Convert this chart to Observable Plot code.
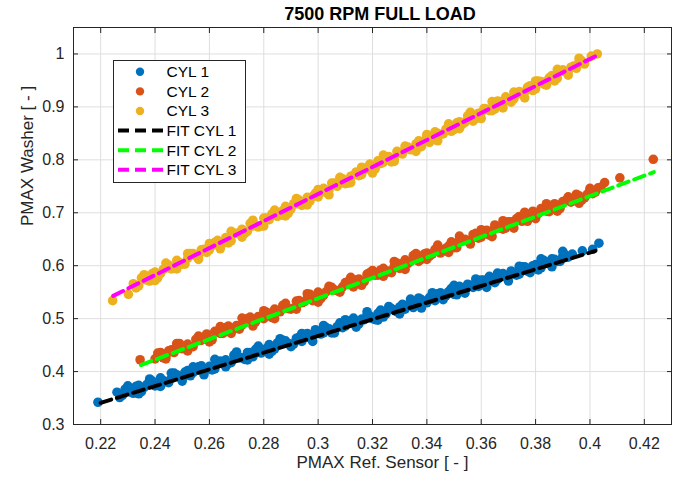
<!DOCTYPE html>
<html><head><meta charset="utf-8">
<script src="https://cdn.jsdelivr.net/npm/d3@7"></script>
<script src="https://cdn.jsdelivr.net/npm/@observablehq/plot@0.6"></script>
<style>
body{margin:0;background:#fff;}
#wrap{position:relative;width:682px;height:482px;font-family:"Liberation Sans",Arial,Helvetica,sans-serif;}
#title{position:absolute;left:81px;width:598px;top:4px;line-height:20px;text-align:center;font-weight:bold;font-size:18px;color:#000;}
#legend{position:absolute;left:113px;top:60px;}
</style></head><body>
<div id="wrap"><div id="title">7500 RPM FULL LOAD</div><div id="chart"></div><div id="legend"></div></div>
<script>
const chartTitle = "7500 RPM FULL LOAD";
const xLabel = "PMAX Ref. Sensor [ - ]";
const yLabel = "PMAX Washer [ - ]";
const xTicks = [0.22,0.24,0.26,0.28,0.3,0.32,0.34,0.36,0.38,0.4,0.42];
const yTicks = [0.3,0.4,0.5,0.6,0.7,0.8,0.9,1];
const seriesNames = ["CYL 1","CYL 2","CYL 3"];
const fitNames = ["FIT CYL 1","FIT CYL 2","FIT CYL 3"];
const seriesColors = ["#0072BD","#D95319","#EDB120"];
const fitColors = ["#000000","#00FF00","#FF00FF"];

const cyl1X = [0.219,0.226,0.228,0.230,0.232,0.234,0.236,0.238,0.240,0.242,0.244,0.246,0.248,0.250,0.252,0.254,0.256,0.258,0.260,0.262,0.264,0.266,0.268,0.270,0.272,0.274,0.276,0.278,0.280,0.282,0.284,0.286,0.288,0.290,0.292,0.294,0.296,0.298,0.300,0.302,0.304,0.306,0.308,0.310,0.312,0.314,0.316,0.318,0.320,0.322,0.324,0.326,0.328,0.330,0.332,0.334,0.336,0.338,0.340,0.342,0.344,0.346,0.348,0.350,0.352,0.354,0.356,0.358,0.360,0.362,0.364,0.366,0.368,0.370,0.372,0.374,0.376,0.378,0.380,0.382,0.384,0.386,0.388,0.390,0.392,0.3935,0.3972,0.401,0.4033];
const cyl1Y = [0.342,0.361,0.355,0.364,0.359,0.374,0.370,0.378,0.373,0.388,0.381,0.387,0.394,0.387,0.402,0.398,0.409,0.402,0.410,0.405,0.420,0.422,0.417,0.431,0.426,0.436,0.428,0.440,0.438,0.451,0.443,0.451,0.458,0.452,0.463,0.457,0.472,0.468,0.476,0.473,0.481,0.476,0.492,0.486,0.495,0.489,0.499,0.507,0.500,0.510,0.503,0.518,0.516,0.522,0.518,0.532,0.526,0.536,0.530,0.540,0.547,0.543,0.551,0.546,0.561,0.554,0.563,0.563,0.573,0.564,0.577,0.574,0.585,0.581,0.587,0.584,0.598,0.592,0.602,0.596,0.607,0.613,0.608,0.618,0.616,0.622,0.628,0.631,0.6425];
const cyl1XB = [0.227,0.229,0.231,0.233,0.235,0.237,0.239,0.241,0.243,0.245,0.247,0.249,0.251,0.253,0.255,0.257,0.259,0.261,0.263,0.265,0.267,0.269,0.271,0.273,0.275,0.277,0.279,0.281,0.283,0.285,0.287,0.289,0.291,0.293,0.295,0.297,0.299,0.301,0.303,0.305,0.307,0.309,0.311,0.313,0.315,0.317,0.319,0.321,0.323,0.325,0.327,0.329,0.331,0.333,0.335,0.337,0.339,0.341,0.343,0.345,0.347,0.349,0.351,0.353,0.355,0.357,0.359,0.361,0.363,0.365,0.367,0.369,0.371,0.373,0.375,0.377,0.379,0.381,0.383,0.385,0.387,0.389,0.391];
const cyl1YB = [0.351,0.367,0.361,0.372,0.362,0.376,0.382,0.374,0.383,0.379,0.397,0.389,0.399,0.392,0.403,0.411,0.404,0.403,0.419,0.418,0.415,0.431,0.426,0.423,0.436,0.442,0.435,0.444,0.438,0.454,0.459,0.453,0.452,0.465,0.466,0.463,0.479,0.471,0.483,0.473,0.485,0.483,0.495,0.501,0.490,0.498,0.505,0.498,0.516,0.509,0.519,0.513,0.527,0.526,0.521,0.539,0.532,0.540,0.534,0.549,0.543,0.557,0.545,0.558,0.565,0.559,0.561,0.573,0.580,0.568,0.579,0.579,0.590,0.582,0.598,0.590,0.600,0.592,0.610,0.606,0.612,0.608,0.620];
const cyl1XC = [0.230,0.234,0.238,0.242,0.246,0.250,0.254,0.258,0.262,0.266,0.270,0.274,0.278,0.282,0.286,0.290,0.294,0.298,0.302,0.306,0.310,0.314,0.318,0.322,0.326,0.330,0.334,0.338,0.342,0.346,0.350,0.354,0.358,0.362,0.366,0.370,0.374,0.378,0.382,0.386,0.390];
const cyl1YC = [0.373,0.358,0.386,0.372,0.397,0.382,0.409,0.394,0.423,0.409,0.437,0.422,0.448,0.433,0.462,0.447,0.472,0.457,0.487,0.473,0.498,0.484,0.513,0.497,0.523,0.509,0.537,0.520,0.549,0.536,0.563,0.548,0.575,0.559,0.586,0.571,0.599,0.587,0.613,0.598,0.627];

const cyl2X = [0.2345,0.240,0.242,0.244,0.246,0.248,0.250,0.252,0.254,0.256,0.258,0.260,0.262,0.264,0.266,0.268,0.270,0.272,0.274,0.276,0.278,0.280,0.282,0.284,0.286,0.288,0.290,0.292,0.294,0.296,0.298,0.300,0.302,0.304,0.306,0.308,0.310,0.312,0.314,0.316,0.318,0.320,0.322,0.324,0.326,0.328,0.330,0.332,0.334,0.336,0.338,0.340,0.342,0.344,0.346,0.348,0.350,0.352,0.354,0.356,0.358,0.360,0.362,0.364,0.366,0.368,0.370,0.372,0.374,0.376,0.378,0.380,0.382,0.384,0.386,0.388,0.390,0.392,0.394,0.396,0.398,0.400,0.402,0.404,0.4054,0.411,0.4233];
const cyl2Y = [0.4223,0.424,0.436,0.429,0.441,0.449,0.443,0.452,0.447,0.462,0.465,0.461,0.476,0.472,0.483,0.476,0.487,0.488,0.500,0.493,0.504,0.500,0.510,0.518,0.513,0.524,0.518,0.533,0.530,0.538,0.534,0.550,0.544,0.555,0.554,0.553,0.568,0.564,0.573,0.567,0.584,0.583,0.582,0.595,0.590,0.599,0.595,0.611,0.608,0.617,0.612,0.624,0.622,0.635,0.628,0.637,0.634,0.649,0.650,0.648,0.661,0.654,0.667,0.666,0.674,0.669,0.683,0.680,0.693,0.686,0.695,0.693,0.708,0.703,0.711,0.707,0.721,0.726,0.723,0.732,0.728,0.742,0.739,0.748,0.757,0.766,0.801];
const cyl2XB = [0.241,0.243,0.245,0.247,0.249,0.251,0.253,0.255,0.257,0.259,0.261,0.263,0.265,0.267,0.269,0.271,0.273,0.275,0.277,0.279,0.281,0.283,0.285,0.287,0.289,0.291,0.293,0.295,0.297,0.299,0.301,0.303,0.305,0.307,0.309,0.311,0.313,0.315,0.317,0.319,0.321,0.323,0.325,0.327,0.329,0.331,0.333,0.335,0.337,0.339,0.341,0.343,0.345,0.347,0.349,0.351,0.353,0.355,0.357,0.359,0.361,0.363,0.365,0.367,0.369,0.371,0.373,0.375,0.377,0.379,0.381,0.383,0.385,0.387,0.389,0.391,0.393,0.395,0.397,0.399,0.401,0.403];
const cyl2YB = [0.435,0.426,0.439,0.436,0.453,0.446,0.447,0.461,0.459,0.471,0.460,0.475,0.472,0.486,0.481,0.480,0.495,0.503,0.494,0.502,0.512,0.502,0.515,0.525,0.519,0.520,0.534,0.532,0.546,0.536,0.538,0.551,0.559,0.553,0.560,0.570,0.560,0.575,0.570,0.587,0.582,0.592,0.587,0.587,0.605,0.604,0.604,0.619,0.608,0.622,0.618,0.631,0.624,0.633,0.645,0.634,0.648,0.646,0.659,0.652,0.665,0.658,0.677,0.671,0.671,0.683,0.689,0.684,0.684,0.703,0.699,0.706,0.702,0.717,0.708,0.723,0.720,0.735,0.724,0.735,0.736,0.747];
const cyl2XC = [0.244,0.248,0.252,0.256,0.260,0.264,0.268,0.272,0.276,0.280,0.284,0.288,0.292,0.296,0.300,0.304,0.308,0.312,0.316,0.320,0.324,0.328,0.332,0.336,0.340,0.344,0.348,0.352,0.356,0.360,0.364,0.368,0.372,0.376,0.380,0.384,0.388,0.392,0.396,0.400];
const cyl2YC = [0.424,0.453,0.439,0.467,0.456,0.485,0.472,0.501,0.486,0.515,0.500,0.529,0.518,0.547,0.531,0.561,0.550,0.578,0.563,0.591,0.580,0.608,0.593,0.623,0.612,0.639,0.625,0.656,0.641,0.668,0.655,0.685,0.671,0.701,0.689,0.717,0.703,0.730,0.718,0.746];

const cyl3X = [0.2244,0.2302,0.232,0.234,0.236,0.238,0.240,0.242,0.244,0.246,0.248,0.250,0.252,0.254,0.256,0.258,0.260,0.262,0.264,0.266,0.268,0.270,0.272,0.274,0.276,0.278,0.280,0.282,0.284,0.286,0.288,0.290,0.292,0.294,0.296,0.298,0.300,0.302,0.304,0.306,0.308,0.310,0.312,0.314,0.316,0.318,0.320,0.322,0.324,0.326,0.328,0.330,0.332,0.334,0.336,0.338,0.340,0.342,0.344,0.346,0.348,0.350,0.352,0.354,0.356,0.358,0.360,0.362,0.364,0.366,0.368,0.370,0.372,0.374,0.376,0.378,0.380,0.382,0.384,0.386,0.388,0.390,0.392,0.394,0.396,0.398,0.4005,0.4027];
const cyl3Y = [0.534,0.546,0.566,0.562,0.574,0.571,0.588,0.585,0.596,0.594,0.610,0.603,0.614,0.623,0.617,0.631,0.630,0.644,0.643,0.653,0.647,0.661,0.669,0.665,0.675,0.673,0.690,0.687,0.698,0.695,0.712,0.707,0.717,0.714,0.729,0.731,0.730,0.746,0.743,0.756,0.755,0.755,0.769,0.777,0.772,0.783,0.781,0.798,0.795,0.806,0.801,0.813,0.822,0.819,0.830,0.825,0.843,0.841,0.850,0.849,0.863,0.857,0.872,0.871,0.884,0.878,0.889,0.896,0.893,0.911,0.906,0.916,0.915,0.929,0.928,0.940,0.934,0.948,0.948,0.959,0.954,0.970,0.967,0.977,0.986,0.981,0.996,1.000];
const cyl3XB = [0.233,0.235,0.237,0.239,0.241,0.243,0.245,0.247,0.249,0.251,0.253,0.255,0.257,0.259,0.261,0.263,0.265,0.267,0.269,0.271,0.273,0.275,0.277,0.279,0.281,0.283,0.285,0.287,0.289,0.291,0.293,0.295,0.297,0.299,0.301,0.303,0.305,0.307,0.309,0.311,0.313,0.315,0.317,0.319,0.321,0.323,0.325,0.327,0.329,0.331,0.333,0.335,0.337,0.339,0.341,0.343,0.345,0.347,0.349,0.351,0.353,0.355,0.357,0.359,0.361,0.363,0.365,0.367,0.369,0.371,0.373,0.375,0.377,0.379,0.381,0.383,0.385,0.387,0.389,0.391,0.393,0.395,0.397];
const cyl3YB = [0.558,0.577,0.573,0.585,0.577,0.593,0.601,0.595,0.606,0.603,0.623,0.618,0.630,0.625,0.638,0.648,0.642,0.643,0.661,0.662,0.661,0.680,0.676,0.675,0.690,0.698,0.693,0.704,0.699,0.717,0.724,0.721,0.722,0.737,0.739,0.738,0.756,0.750,0.764,0.756,0.771,0.770,0.784,0.792,0.783,0.793,0.802,0.796,0.816,0.811,0.824,0.820,0.836,0.836,0.833,0.853,0.848,0.858,0.854,0.870,0.867,0.883,0.873,0.888,0.897,0.893,0.896,0.910,0.919,0.909,0.923,0.925,0.937,0.931,0.949,0.943,0.955,0.949,0.968,0.966,0.975,0.973,0.987];
const cyl3XC = [0.236,0.240,0.244,0.248,0.252,0.256,0.260,0.264,0.268,0.272,0.276,0.280,0.284,0.288,0.292,0.296,0.300,0.304,0.308,0.312,0.316,0.320,0.324,0.328,0.332,0.336,0.340,0.344,0.348,0.352,0.356,0.360,0.364,0.368,0.372,0.376,0.380,0.384,0.388,0.392,0.396];
const cyl3YC = [0.583,0.572,0.605,0.594,0.623,0.612,0.642,0.632,0.665,0.654,0.686,0.675,0.705,0.694,0.727,0.715,0.744,0.734,0.767,0.757,0.786,0.775,0.809,0.797,0.826,0.816,0.848,0.836,0.868,0.859,0.890,0.878,0.910,0.898,0.928,0.917,0.949,0.941,0.971,0.960,0.992];

const fit1X = [0.220,0.402], fit1Y = [0.341,0.628];
const fit2X = [0.2348,0.4235], fit2Y = [0.4124,0.7768];
const fit3X = [0.2246,0.4033], fit3Y = [0.543,0.999];

const pts = (xs, ys) => xs.map((x, i) => ({x, y: ys[i]}));
const scatter = [
  pts(cyl1X, cyl1Y).concat(pts(cyl1XB, cyl1YB), pts(cyl1XC, cyl1YC)),
  pts(cyl2X, cyl2Y).concat(pts(cyl2XB, cyl2YB), pts(cyl2XC, cyl2YC)),
  pts(cyl3X, cyl3Y).concat(pts(cyl3XB, cyl3YB), pts(cyl3XC, cyl3YC))
];
const fits = [pts(fit1X, fit1Y), pts(fit2X, fit2Y), pts(fit3X, fit3Y)];
const fmt = d3.format("~g");
const dash = "11,6";

const chart = Plot.plot({
  width: 682, height: 482,
  marginLeft: 73, marginRight: 11, marginTop: 27, marginBottom: 58,
  style: {fontFamily: '"Liberation Sans", Arial, Helvetica, sans-serif', fontSize: "16px", color: "#262626", background: "white"},
  x: {domain: [0.21, 0.43], label: null},
  y: {domain: [0.3, 1.05], label: null},
  marks: [
    Plot.gridX(xTicks, {stroke: "#dedede", strokeOpacity: 1}),
    Plot.gridY(yTicks, {stroke: "#dedede", strokeOpacity: 1}),
    ...scatter.map((d, i) => Plot.dot(d, {x: "x", y: "y", r: 4.8, fill: seriesColors[i], stroke: "none"})),
    ...fits.map((d, i) => Plot.line(d, {x: "x", y: "y", stroke: fitColors[i], strokeWidth: 4, strokeDasharray: dash})),
    Plot.frame({stroke: "#262626"}),
    Plot.axisX(xTicks, {anchor: "bottom", tickSize: 0, tickPadding: 13, tickFormat: fmt, label: null, fill: "#262626"}),
    Plot.axisY(yTicks, {anchor: "left", tickSize: 0, tickPadding: 9, tickFormat: fmt, label: null, fill: "#262626"}),
    Plot.axisX(xTicks, {anchor: "bottom", tickSize: -5, fill: "none", label: null, stroke: "#262626"}),
    Plot.axisX(xTicks, {anchor: "top", tickSize: -5, fill: "none", label: null, stroke: "#262626"}),
    Plot.axisY(yTicks, {anchor: "left", tickSize: -5, fill: "none", label: null, stroke: "#262626"}),
    Plot.axisY(yTicks, {anchor: "right", tickSize: -5, fill: "none", label: null, stroke: "#262626"}),
    Plot.text([xLabel], {frameAnchor: "bottom", dx: 10, dy: 43, fontSize: 17, fill: "#262626"}),
    Plot.text([yLabel], {frameAnchor: "left", dx: -46, rotate: -90, fontSize: 17, fill: "#262626"})
  ]
});
document.getElementById("chart").appendChild(chart);
document.getElementById("title").textContent = chartTitle;

// legend
const lw = 133, lh = 124, rowY0 = 11.8, rowDy = 19.6;
const leg = d3.select("#legend").append("svg").attr("width", lw).attr("height", lh)
  .style("font-family", '"Liberation Sans", Arial, Helvetica, sans-serif').style("font-size", "15.5px");
leg.append("rect").attr("x", 0.5).attr("y", 0.5).attr("width", lw - 1).attr("height", lh - 2)
  .attr("fill", "white").attr("stroke", "#262626");
seriesNames.forEach((n, i) => {
  const y = rowY0 + i * rowDy;
  leg.append("circle").attr("cx", 27).attr("cy", y).attr("r", 4.2).attr("fill", seriesColors[i]);
  leg.append("text").attr("x", 53.5).attr("y", y).attr("dy", "0.35em").attr("fill", "#000").text(n);
});
fitNames.forEach((n, i) => {
  const y = rowY0 + (i + 3) * rowDy;
  leg.append("line").attr("x1", 5).attr("x2", 50).attr("y1", y).attr("y2", y)
    .attr("stroke", fitColors[i]).attr("stroke-width", 4).attr("stroke-dasharray", dash);
  leg.append("text").attr("x", 53.5).attr("y", y).attr("dy", "0.35em").attr("fill", "#000").text(n);
});
</script>
</body></html>
